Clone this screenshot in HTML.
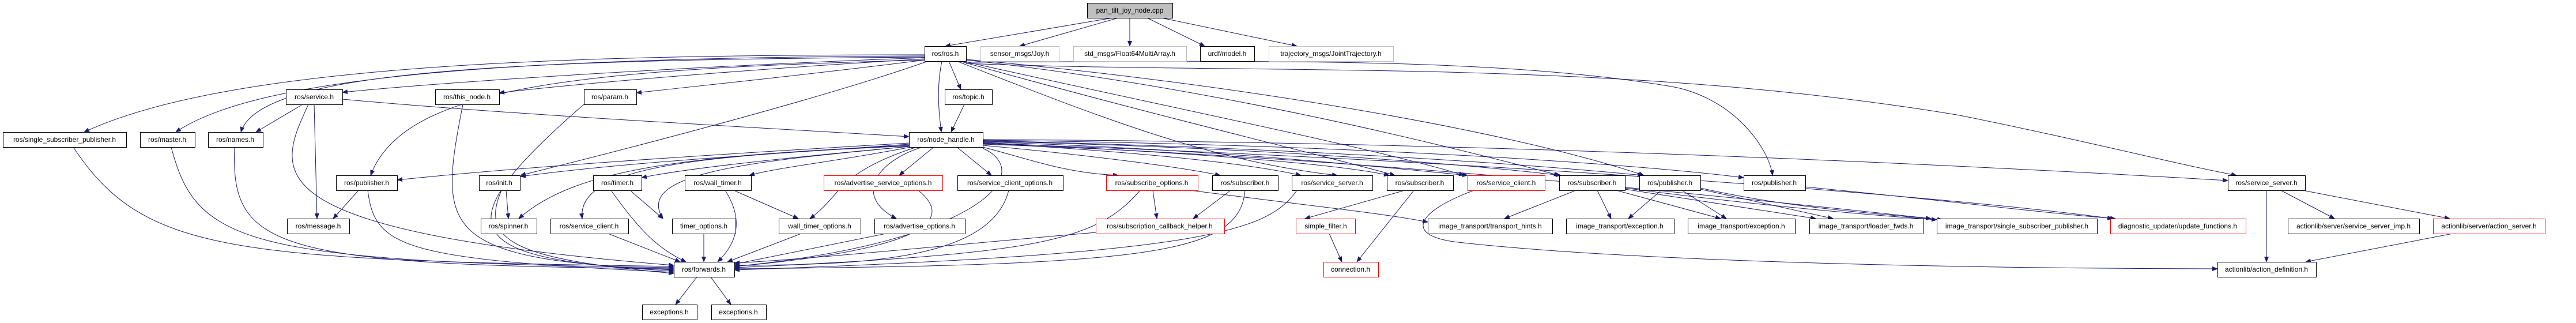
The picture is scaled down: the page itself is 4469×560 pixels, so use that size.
<!DOCTYPE html>
<html><head><meta charset="utf-8"><style>
html,body{margin:0;padding:0;background:#fff;}
svg{display:block;}
text{font-family:"Liberation Sans",sans-serif;font-size:12px;fill:#000;}
</style></head><body>
<svg width="4469" height="560" viewBox="0 0 4469 560" xmlns="http://www.w3.org/2000/svg">
<defs>
<marker id="a" markerWidth="10" markerHeight="8" refX="9" refY="4" orient="auto" markerUnits="userSpaceOnUse">
<path d="M0,0 L10,4 L0,8 Z" fill="#191970"/>
</marker>
</defs>
<g fill="none" stroke="#191970" stroke-width="1" marker-end="url(#a)">
<!-- from pan_tilt -->
<path d="M1930,31 L1640,80"/>
<path d="M1940,31 L1769,80"/>
<path d="M1960,31 L1960,80"/>
<path d="M1990,31 L2090,80"/>
<path d="M2015,31 L2250,80"/>
<!-- from ros.h -->
<path d="M1604,95 C1000,95 400,110 146,229"/>
<path d="M1604,97 C900,100 450,130 305,229"/>
<path d="M1604,99 C900,104 450,120 418,229"/>
<path d="M1604,100 C1200,115 800,140 594,160"/>
<path d="M1604,102 C1300,120 1000,145 866,161"/>
<path d="M1604,104 C1400,130 1200,150 1104,161"/>
<path d="M1604,104 C1000,120 700,150 643,304"/>
<path d="M1610,106 C1400,180 1000,280 903,304"/>
<path d="M1646,106 L1667,155"/>
<path d="M1634,106 C1625,150 1628,190 1633,229"/>
<path d="M1660,106 C1900,200 2100,280 2320,304"/>
<path d="M1665,106 C2000,200 2300,270 2420,304"/>
<path d="M1670,106 C2000,180 2400,260 2540,304"/>
<path d="M1676,104 C2100,150 2500,250 2705,304"/>
<path d="M1676,103 C2100,140 2600,220 2852,304"/>
<path d="M1676,108 C2200,105 2600,100 2900,150 C3010,170 3070,260 3075,304"/>
<path d="M1676,110 C2200,130 2800,100 3400,200 C3600,240 3800,290 3880,304"/>
<!-- ros/service.h -->
<path d="M525,181 L444,229"/>
<path d="M545,181 L550,379"/>
<path d="M535,181 C480,300 430,400 1169,460"/>
<path d="M594,172 C900,200 1300,220 1577,237"/>
<!-- left row3 to forwards -->
<path d="M127,255 C250,440 400,450 1169,462"/>
<path d="M297,255 C340,420 420,455 1169,464"/>
<path d="M407,255 C400,430 470,460 1169,466"/>
<path d="M803,181 C760,400 760,450 1169,468"/>
<path d="M1013,181 C760,400 800,450 1169,470"/>
<!-- topic -->
<path d="M1673,181 L1650,229"/>
<!-- node_handle -->
<path d="M1577,248 C1200,270 900,290 689,312"/>
<path d="M1577,250 C1300,270 1100,280 903,306"/>
<path d="M1577,252 C1200,270 1000,290 900,379"/>
<path d="M1577,253 C1200,270 1000,290 1010,379"/>
<path d="M1577,254 C1400,270 1200,290 1113,308"/>
<path d="M1577,254 C1300,280 1100,300 1150,379"/>
<path d="M1580,255 C1450,280 1350,290 1300,304"/>
<path d="M1590,255 C1450,300 1460,340 1405,379"/>
<path d="M1600,255 C1520,280 1480,340 1555,379"/>
<path d="M1620,255 L1560,304"/>
<path d="M1660,255 L1720,304"/>
<path d="M1705,255 C1800,280 1850,300 1940,304"/>
<path d="M1705,252 C1900,270 2050,290 2117,304"/>
<path d="M1705,248 C1950,262 2150,280 2257,304"/>
<path d="M1705,247 C2000,262 2300,280 2410,304"/>
<path d="M1705,246 C2100,258 2400,290 2546,304"/>
<path d="M1705,245 C2150,255 2500,280 2708,304"/>
<path d="M1705,244 C2200,255 2600,280 2850,304"/>
<path d="M1705,243 C2300,250 2800,280 3025,308"/>
<path d="M1705,242 C2500,245 3300,280 3865,313"/>
<path d="M1705,257 C1800,300 1700,420 1274,462"/>
<path d="M1705,250 C2300,270 2900,330 3350,379"/>
<path d="M1705,249 C2400,270 3300,330 3665,379"/>
<!-- row4 edges -->
<path d="M622,330 L578,379"/>
<path d="M638,330 C650,430 700,450 1169,472"/>
<path d="M878,330 L882,379"/>
<path d="M870,330 C830,420 900,450 1169,474"/>
<path d="M1093,330 L1150,379"/>
<path d="M1060,330 C1110,400 1140,430 1190,454"/>
<path d="M1273,330 L1385,379"/>
<path d="M1258,330 C1290,380 1280,420 1245,454"/>
<path d="M1221,405 L1221,454"/>
<path d="M1055,405 L1180,454"/>
<path d="M1390,405 L1262,454"/>
<path d="M1537,405 L1274,458"/>
<path d="M1593,330 C1680,400 1520,440 1274,462"/>
<path d="M1750,330 C1720,450 1500,460 1274,460"/>
<path d="M1978,330 C1900,420 1800,440 1274,464"/>
<path d="M2000,330 L2007,379"/>
<path d="M2065,330 C2300,360 2400,370 2477,385"/>
<path d="M2135,330 L2070,379"/>
<path d="M2160,330 C2150,440 2000,460 1274,466"/>
<path d="M1901,403 C1700,420 1400,450 1274,456"/>
<path d="M2250,330 C2200,400 2100,440 1274,468"/>
<path d="M2437,330 L2264,379"/>
<path d="M2453,330 L2354,454"/>
<path d="M2306,405 L2328,454"/>
<path d="M2557,330 C2450,370 2440,410 2530,420 C2800,450 3300,465 3847,466"/>
<path d="M2734,330 L2610,379"/>
<path d="M2771,330 L2795,379"/>
<path d="M2804,330 L2985,379"/>
<path d="M2819,328 L3150,379"/>
<path d="M2819,326 C3000,350 3200,370 3360,381"/>
<path d="M2882,330 L2825,379"/>
<path d="M2918,330 L2995,379"/>
<path d="M2950,328 L3180,379"/>
<path d="M2950,326 C3100,360 3250,370 3370,381"/>
<path d="M3132,324 C3400,350 3550,370 3670,379"/>
<!-- service_server 2 -->
<path d="M3932,330 L3932,454"/>
<path d="M3957,330 L4050,379"/>
<path d="M3995,330 L4250,379"/>
<path d="M4255,405 L4000,454"/>
<!-- forwards -->
<path d="M1210,479 L1172,528"/>
<path d="M1232,479 L1268,528"/>
</g>
<g stroke-width="1">
<rect x="1886.5" y="5.5" width="148" height="26" fill="#bfbfbf" stroke="#000"/>
<rect x="1604.5" y="80.5" width="72" height="26" fill="#fff" stroke="#000"/>
<rect x="1701.5" y="80.5" width="136" height="26" fill="#fff" stroke="#bfbfbf"/>
<rect x="1862.5" y="80.5" width="196" height="26" fill="#fff" stroke="#bfbfbf"/>
<rect x="2082.5" y="80.5" width="94" height="26" fill="#fff" stroke="#000"/>
<rect x="2201.5" y="80.5" width="216" height="26" fill="#fff" stroke="#bfbfbf"/>
<rect x="496.5" y="155.5" width="98" height="26" fill="#fff" stroke="#000"/>
<rect x="755.5" y="155.5" width="111" height="26" fill="#fff" stroke="#000"/>
<rect x="1013.5" y="155.5" width="91" height="26" fill="#fff" stroke="#000"/>
<rect x="1639.5" y="155.5" width="82" height="26" fill="#fff" stroke="#000"/>
<rect x="5.5" y="229.5" width="214" height="26" fill="#fff" stroke="#000"/>
<rect x="243.5" y="229.5" width="95" height="26" fill="#fff" stroke="#000"/>
<rect x="361.5" y="229.5" width="95" height="26" fill="#fff" stroke="#000"/>
<rect x="1577.5" y="229.5" width="128" height="26" fill="#fff" stroke="#000"/>
<rect x="583.5" y="304.5" width="106" height="26" fill="#fff" stroke="#000"/>
<rect x="831.5" y="304.5" width="71" height="26" fill="#fff" stroke="#000"/>
<rect x="1029.5" y="304.5" width="84" height="26" fill="#fff" stroke="#000"/>
<rect x="1188.5" y="304.5" width="115" height="26" fill="#fff" stroke="#000"/>
<rect x="1429.5" y="304.5" width="206" height="26" fill="#fff" stroke="#ff0000"/>
<rect x="1661.5" y="304.5" width="183" height="26" fill="#fff" stroke="#000"/>
<rect x="1919.5" y="304.5" width="159" height="26" fill="#fff" stroke="#ff0000"/>
<rect x="2103.5" y="304.5" width="114" height="26" fill="#fff" stroke="#000"/>
<rect x="2241.5" y="304.5" width="140" height="26" fill="#fff" stroke="#000"/>
<rect x="2406.5" y="304.5" width="115" height="26" fill="#fff" stroke="#000"/>
<rect x="2546.5" y="304.5" width="134" height="26" fill="#fff" stroke="#ff0000"/>
<rect x="2705.5" y="304.5" width="114" height="26" fill="#fff" stroke="#000"/>
<rect x="2844.5" y="304.5" width="106" height="26" fill="#fff" stroke="#000"/>
<rect x="3025.5" y="304.5" width="107" height="26" fill="#fff" stroke="#000"/>
<rect x="3865.5" y="304.5" width="134" height="26" fill="#fff" stroke="#000"/>
<rect x="498.5" y="379.5" width="108" height="26" fill="#fff" stroke="#000"/>
<rect x="834.5" y="379.5" width="97" height="26" fill="#fff" stroke="#000"/>
<rect x="955.5" y="379.5" width="135" height="26" fill="#fff" stroke="#000"/>
<rect x="1166.5" y="379.5" width="110" height="26" fill="#fff" stroke="#000"/>
<rect x="1351.5" y="379.5" width="142" height="26" fill="#fff" stroke="#000"/>
<rect x="1517.5" y="379.5" width="157" height="26" fill="#fff" stroke="#000"/>
<rect x="1901.5" y="379.5" width="223" height="26" fill="#fff" stroke="#ff0000"/>
<rect x="2248.5" y="379.5" width="103" height="26" fill="#fff" stroke="#ff0000"/>
<rect x="2477.5" y="379.5" width="216" height="26" fill="#fff" stroke="#000"/>
<rect x="2717.5" y="379.5" width="187" height="26" fill="#fff" stroke="#000"/>
<rect x="2928.5" y="379.5" width="186" height="26" fill="#fff" stroke="#000"/>
<rect x="3139.5" y="379.5" width="197" height="26" fill="#fff" stroke="#000"/>
<rect x="3360.5" y="379.5" width="278" height="26" fill="#fff" stroke="#000"/>
<rect x="3661.5" y="379.5" width="235" height="26" fill="#fff" stroke="#ff0000"/>
<rect x="3969.5" y="379.5" width="228" height="26" fill="#fff" stroke="#000"/>
<rect x="4221.5" y="379.5" width="194" height="26" fill="#fff" stroke="#ff0000"/>
<rect x="1169.5" y="454.5" width="105" height="26" fill="#fff" stroke="#000"/>
<rect x="2296.5" y="454.5" width="95" height="26" fill="#fff" stroke="#ff0000"/>
<rect x="3847.5" y="454.5" width="171" height="26" fill="#fff" stroke="#000"/>
<rect x="1114.5" y="528.5" width="95" height="26" fill="#fff" stroke="#000"/>
<rect x="1234.5" y="528.5" width="95" height="26" fill="#fff" stroke="#000"/>
</g>
<g text-anchor="middle">
<text x="1960" y="22">pan_tilt_joy_node.cpp</text>
<text x="1640" y="97">ros/ros.h</text>
<text x="1769" y="97">sensor_msgs/Joy.h</text>
<text x="1960" y="97">std_msgs/Float64MultiArray.h</text>
<text x="2129" y="97">urdf/model.h</text>
<text x="2309" y="97">trajectory_msgs/JointTrajectory.h</text>
<text x="545" y="172">ros/service.h</text>
<text x="810" y="172">ros/this_node.h</text>
<text x="1058" y="172">ros/param.h</text>
<text x="1680" y="172">ros/topic.h</text>
<text x="112" y="246">ros/single_subscriber_publisher.h</text>
<text x="290" y="246">ros/master.h</text>
<text x="408" y="246">ros/names.h</text>
<text x="1641" y="246">ros/node_handle.h</text>
<text x="636" y="321">ros/publisher.h</text>
<text x="866" y="321">ros/init.h</text>
<text x="1071" y="321">ros/timer.h</text>
<text x="1245" y="321">ros/wall_timer.h</text>
<text x="1532" y="321">ros/advertise_service_options.h</text>
<text x="1752" y="321">ros/service_client_options.h</text>
<text x="1998" y="321">ros/subscribe_options.h</text>
<text x="2160" y="321">ros/subscriber.h</text>
<text x="2311" y="321">ros/service_server.h</text>
<text x="2463" y="321">ros/subscriber.h</text>
<text x="2613" y="321">ros/service_client.h</text>
<text x="2762" y="321">ros/subscriber.h</text>
<text x="2897" y="321">ros/publisher.h</text>
<text x="3078" y="321">ros/publisher.h</text>
<text x="3932" y="321">ros/service_server.h</text>
<text x="552" y="396">ros/message.h</text>
<text x="882" y="396">ros/spinner.h</text>
<text x="1022" y="396">ros/service_client.h</text>
<text x="1221" y="396">timer_options.h</text>
<text x="1422" y="396">wall_timer_options.h</text>
<text x="1595" y="396">ros/advertise_options.h</text>
<text x="2012" y="396">ros/subscription_callback_helper.h</text>
<text x="2300" y="396">simple_filter.h</text>
<text x="2585" y="396">image_transport/transport_hints.h</text>
<text x="2810" y="396">image_transport/exception.h</text>
<text x="3021" y="396">image_transport/exception.h</text>
<text x="3237" y="396">image_transport/loader_fwds.h</text>
<text x="3499" y="396">image_transport/single_subscriber_publisher.h</text>
<text x="3778" y="396">diagnostic_updater/update_functions.h</text>
<text x="4083" y="396">actionlib/server/service_server_imp.h</text>
<text x="4318" y="396">actionlib/server/action_server.h</text>
<text x="1221" y="471">ros/forwards.h</text>
<text x="2343" y="471">connection.h</text>
<text x="3932" y="471">actionlib/action_definition.h</text>
<text x="1161" y="545">exceptions.h</text>
<text x="1281" y="545">exceptions.h</text>
</g>
</svg>
</body></html>
